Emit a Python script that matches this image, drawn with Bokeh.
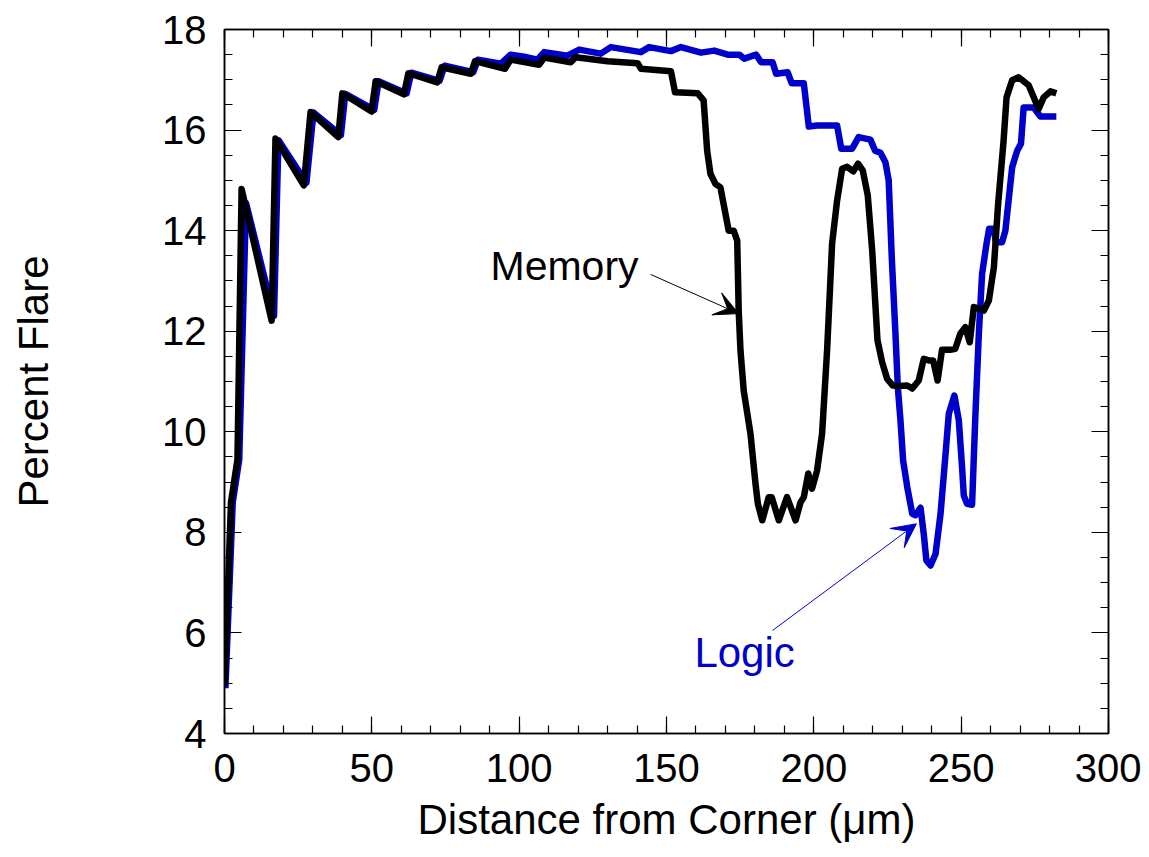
from bokeh.plotting import figure
from bokeh.models import (LinearAxis, Range1d, Arrow, VeeHead, Label,
                          SingleIntervalTicker)
from bokeh.embed import file_html
from bokeh.resources import INLINE

# ---- data ----
mem_x = [0.0, 2.2, 4.4, 5.8, 16.0, 17.3, 26.9, 29.2, 38.6, 40.0, 49.9, 51.3,
         60.9, 62.4, 72.2, 73.7, 83.6, 85.0, 95.2, 97.1, 106.8, 108.5, 117.5,
         119.2, 130.0, 140.2, 141.3, 151.5, 152.9, 160.6, 162.6, 163.8, 164.9,
         166.6, 168.3, 171.1, 172.8, 174.0, 174.5, 175.1, 176.2, 178.5, 180.2,
         181.0, 182.5, 184.7, 185.7, 188.1, 190.9, 193.8, 195.5, 196.6, 198.1,
         199.4, 201.1, 202.8, 204.5, 206.2, 207.9, 209.6, 211.3, 213.4, 215.0,
         216.6, 218.3, 219.8, 221.6, 223.2, 224.9, 226.8, 228.8, 231.7, 233.4,
         235.6, 237.3, 239.0, 240.5, 242.0, 243.5, 246.3, 248.0, 249.7, 251.4,
         252.9, 254.3, 256.3, 257.7, 259.4, 261.1, 262.5, 264.4, 265.4, 267.3,
         269.5, 272.9, 276.3, 278.0, 280.3, 282.3]
mem_y = [4.95, 8.6, 9.45, 14.83, 12.21, 15.83, 14.90, 16.36, 15.86, 16.73, 16.37,
         16.97, 16.71, 17.13, 16.95, 17.25, 17.12, 17.37, 17.22, 17.40, 17.30,
         17.44, 17.35, 17.45, 17.37, 17.33, 17.22, 17.17, 16.75, 16.73, 16.59,
         15.59, 15.13, 14.93, 14.86, 14.00, 14.00, 13.80, 12.41, 11.62, 10.82,
         9.96, 8.97, 8.57, 8.24, 8.70, 8.70, 8.24, 8.70, 8.24, 8.60, 8.70, 9.17,
         8.87, 9.23, 9.96, 11.62, 13.74, 14.60, 15.23, 15.27, 15.18, 15.33,
         15.20, 14.70, 13.61, 11.82, 11.38, 11.05, 10.92, 10.91, 10.92, 10.86,
         11.02, 11.45, 11.42, 11.42, 11.02, 11.63, 11.63, 11.65, 11.95, 12.08,
         11.78, 12.48, 12.45, 12.41, 12.61, 13.27, 14.50, 15.79, 16.65, 16.99,
         17.05, 16.89, 16.42, 16.65, 16.77, 16.73]

logic_x = [0.3, 2.8, 5.0, 7.3, 16.8, 18.3, 27.8, 30.2, 39.5, 41.0, 50.8, 52.3,
           61.8, 63.4, 73.0, 74.7, 84.4, 86.0, 93.8, 97.1, 101.7, 106.2, 108.5,
           116.4, 120.4, 127.7, 131.1, 141.3, 144.1, 151.5, 154.9, 161.7, 166.2,
           170.8, 174.7, 176.4, 180.4, 182.1, 186.0, 187.2, 191.1, 192.5, 196.6,
           198.3, 201.1, 207.9, 209.3, 213.0, 215.2, 219.2, 220.8, 222.6, 224.3,
           225.4, 226.5, 227.7, 228.5, 229.4, 230.3, 231.7, 233.4, 234.5, 236.2,
           237.3, 238.2, 239.6, 241.3, 243.0, 244.7, 245.8, 247.7, 249.2, 250.3,
           250.9, 252.0, 253.7, 254.8, 256.0, 257.1, 258.6, 259.5, 261.0, 261.8,
           263.9, 265.0, 267.3, 269.0, 270.3, 271.2, 274.6, 276.9, 282.3]
logic_y = [4.9, 8.6, 9.45, 14.55, 12.3, 15.8, 14.95, 16.35, 15.9, 16.72, 16.4,
           16.97, 16.73, 17.14, 16.98, 17.28, 17.15, 17.40, 17.32, 17.50, 17.46,
           17.40, 17.55, 17.48, 17.60, 17.52, 17.65, 17.55, 17.65, 17.57, 17.65,
           17.54, 17.58, 17.50, 17.50, 17.42, 17.50, 17.35, 17.35, 17.12, 17.15,
           16.93, 16.93, 16.07, 16.09, 16.09, 15.63, 15.63, 15.86, 15.81, 15.59,
           15.55, 15.36, 15.0, 13.4, 11.95, 10.89, 10.23, 9.43, 8.90, 8.37, 8.34,
           8.49, 7.97, 7.44, 7.34, 7.57, 8.37, 9.56, 10.36, 10.72, 10.23, 9.30,
           8.73, 8.57, 8.55, 10.29, 11.95, 13.14, 13.74, 14.04, 14.04, 13.77,
           13.77, 14.0, 15.26, 15.59, 15.73, 16.45, 16.45, 16.27, 16.27]

FONT = "Liberation Sans"

p = figure(width=1141, height=849, x_range=Range1d(0, 300), y_range=Range1d(4, 18),
           output_backend="svg", toolbar_location=None,
           min_border_left=224, min_border_right=33, min_border_top=29,
           min_border_bottom=116, x_axis_location=None, y_axis_location=None)
p.xgrid.visible = False
p.ygrid.visible = False
p.outline_line_color = "black"
p.outline_line_width = 1.5
p.background_fill_color = "white"
p.border_fill_color = "white"


def style_axis(ax, show_labels):
    ax.axis_line_color = "black"
    ax.axis_line_width = 1.5
    ax.major_tick_line_color = "black"
    ax.minor_tick_line_color = "black"
    ax.major_tick_line_width = 1.2
    ax.minor_tick_line_width = 1.2
    ax.major_tick_in = 17
    ax.major_tick_out = 0
    ax.minor_tick_in = 8
    ax.minor_tick_out = 0
    if show_labels:
        ax.major_label_text_font = FONT
        ax.major_label_text_font_size = "40px"
        ax.major_label_text_color = "black"
        ax.axis_label_text_font = FONT
        ax.axis_label_text_font_size = "42px"
        ax.axis_label_text_font_style = "normal"
        ax.axis_label_text_color = "black"
    else:
        ax.major_label_text_font_size = "0px"
        ax.major_label_text_color = None


xb = LinearAxis(ticker=SingleIntervalTicker(interval=50, num_minor_ticks=5),
                axis_label="Distance from Corner (\u03bcm)")
style_axis(xb, True)
xb.major_label_standoff = 20
xb.axis_label_standoff = 11
p.add_layout(xb, "below")

xt = LinearAxis(ticker=SingleIntervalTicker(interval=50, num_minor_ticks=5))
style_axis(xt, False)
p.add_layout(xt, "above")

yl = LinearAxis(ticker=SingleIntervalTicker(interval=2, num_minor_ticks=4),
                axis_label="Percent Flare")
style_axis(yl, True)
yl.major_label_standoff = 18
yl.axis_label_standoff = 102
p.add_layout(yl, "left")

yr = LinearAxis(ticker=SingleIntervalTicker(interval=2, num_minor_ticks=4))
style_axis(yr, False)
p.add_layout(yr, "right")

# ---- series ----
p.line(logic_x, logic_y, line_color="#0000CC", line_width=6.5, line_join="round")
p.line(mem_x, mem_y, line_color="black", line_width=6.5, line_join="round")

# ---- annotations ----
p.add_layout(Arrow(end=VeeHead(size=24, fill_color="black", line_color="black",
                               line_width=1),
                   x_start=144.6, y_start=13.13, x_end=174.5, y_end=12.35,
                   line_color="black", line_width=1))
p.add_layout(Arrow(end=VeeHead(size=24, fill_color="#0000CC", line_color="#0000CC",
                               line_width=1),
                   x_start=186.0, y_start=6.05, x_end=234.8, y_end=8.17,
                   line_color="#0000CC", line_width=1))

p.add_layout(Label(x=115.4, y=13.29, text="Memory", text_font=FONT,
                   text_font_size="41px", text_align="center",
                   text_baseline="alphabetic", text_color="black"))
p.add_layout(Label(x=176.5, y=5.61, text="Logic", text_font=FONT,
                   text_font_size="42px", text_align="center",
                   text_baseline="alphabetic", text_color="#0000CC"))

open("out.html", "w").write(file_html(p, INLINE))
